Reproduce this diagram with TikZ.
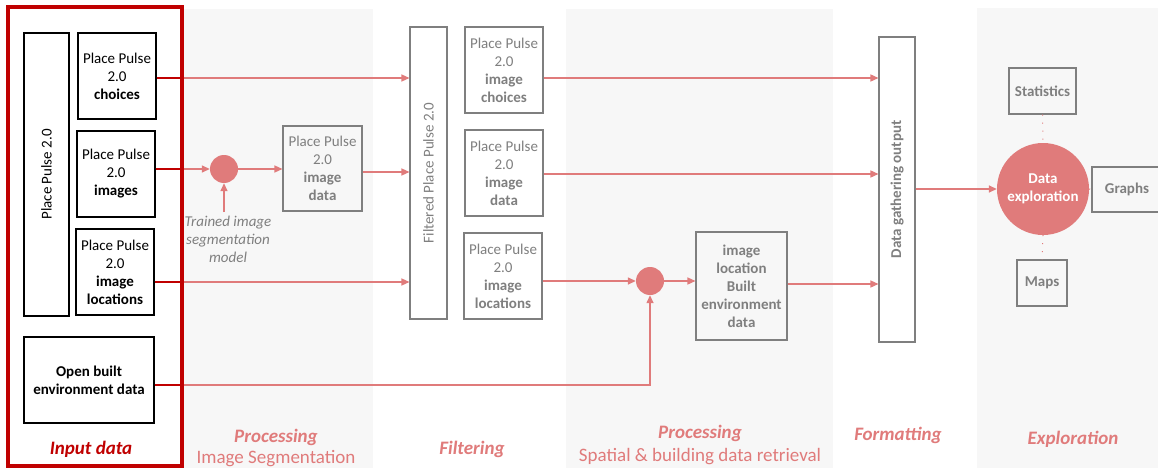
\documentclass[tikz,border=0pt]{standalone}
\usepackage{fontspec}
\setmainfont{Carlito}
\usetikzlibrary{arrows.meta}
\definecolor{pk}{HTML}{E07B7B}
\definecolor{dred}{HTML}{C00000}
\definecolor{gtx}{HTML}{7F7F7F}
\definecolor{bgp}{HTML}{F7F7F7}
\begin{document}
\begin{tikzpicture}[x=1pt,y=-1pt,
  font=\fontsize{15}{18}\selectfont,
  box/.style={draw=black, line width=1.1pt, align=center, inner sep=0pt, text=black},
  gbox/.style={draw=gtx, line width=1.1pt, align=center, inner sep=0pt, text=gtx},
  flow/.style={draw=pk, line width=1.4pt, -{Triangle[length=8pt,width=7pt]}},
  inred/.style={draw=dred, line width=1.6pt},
  dots/.style={draw=pk, line width=1pt, dash pattern=on 1pt off 7pt},
  dot/.style={circle, fill=pk, draw=none, minimum size=28pt, inner sep=0pt},
  panel/.style={fill=bgp, draw=none},
  lbl/.style={font=\fontsize{19}{22}\selectfont\bfseries\itshape, text=pk},
  sub/.style={font=\fontsize{19}{22}\selectfont, text=pk}
]
\useasboundingbox (0,0) rectangle (1158,468);
\fill[white] (0,0) rectangle (1158,468);
% background panels
\fill[panel] (183,9) rectangle (373,468);
\fill[panel] (566,9) rectangle (833,468);
\fill[panel] (977,8) rectangle (1158,468);

% row coordinates
\coordinate (r1) at (0,78);
\coordinate (r2) at (0,169);
\coordinate (r2b) at (0,172);
\coordinate (r2c) at (0,174);
\coordinate (r3) at (0,282);
\coordinate (r3b) at (0,284);
\coordinate (r4) at (0,385);
\coordinate (fr) at (182,0);

% input boxes
\node[box, minimum width=45pt, minimum height=283pt] (pp) at (46.5,174.5) {};
\node[rotate=90] (pptxt) at (pp.center) {Place Pulse 2.0};
\node[box, minimum width=78pt, minimum height=86pt] (ch) at (117,76) {Place Pulse\\2.0\\\textbf{choices}};
\node[box, minimum width=78pt, minimum height=86pt] (im) at (116,174) {Place Pulse\\2.0\\\textbf{images}};
\node[box, minimum width=78pt, minimum height=86pt] (loc) at (115,272) {Place Pulse\\2.0\\\textbf{image}\\\textbf{locations}};
\node[box, minimum width=130pt, minimum height=86pt] (obe) at (89,380) {\textbf{Open built}\\\textbf{environment data}};

% segmentation
\node[dot] (c1) at (224,169) {};
\node[align=center, text=gtx, font=\fontsize{15}{18}\selectfont\itshape] (tm) at (228,239) {Trained image\\segmentation\\model};
\node[gbox, minimum width=79pt, minimum height=85pt] (imd) at (322.5,168.5) {Place Pulse\\2.0\\\textbf{image}\\\textbf{data}};

% filtering
\node[gbox, minimum width=37pt, minimum height=292pt] (flt) at (428.5,173) {};
\node[rotate=90, text=gtx] (flttxt) at (flt.center) {Filtered Place Pulse 2.0};
\node[gbox, minimum width=78pt, minimum height=86pt] (fc) at (504,70) {Place Pulse\\2.0\\\textbf{image}\\\textbf{choices}};
\node[gbox, minimum width=78pt, minimum height=86pt] (fd) at (504,173) {Place Pulse\\2.0\\\textbf{image}\\\textbf{data}};
\node[gbox, minimum width=78pt, minimum height=86pt] (fl) at (503,276) {Place Pulse\\2.0\\\textbf{image}\\\textbf{locations}};

% spatial
\node[dot] (c2) at (650,281) {};
\node[gbox, minimum width=91pt, minimum height=108pt, font=\fontsize{15}{18}\selectfont\bfseries] (be) at (741.5,286) {image\\location\\Built\\environment\\data};

% formatting
\node[gbox, minimum width=36pt, minimum height=305pt] (dg) at (897,189.5) {};
\node[rotate=90, text=gtx, font=\fontsize{15}{18}\selectfont\bfseries] (dgtxt) at (dg.center) {Data gathering output};

% exploration
\node[circle, fill=pk, draw=none, minimum size=92pt, inner sep=0pt, align=center, text=white, font=\fontsize{15}{18}\selectfont\bfseries] (de) at (1043,189) {Data\\exploration};
\node[gbox, minimum width=67pt, minimum height=46pt, font=\fontsize{15}{18}\selectfont\bfseries] (st) at (1042.5,91) {Statistics};
\node[gbox, minimum width=70pt, minimum height=45pt, font=\fontsize{15}{18}\selectfont\bfseries] (gr) at (1127,189.5) {Graphs};
\node[gbox, minimum width=50pt, minimum height=46pt, font=\fontsize{15}{18}\selectfont\bfseries] (mp) at (1042,283) {Maps};

% connectors
\draw[flow] (ch.east |- r1) -- (flt.west |- r1);
\draw[flow] (im.east |- r2) -- (c1.west);
\draw[flow] (tm.north -| c1) -- (c1.south);
\draw[flow] (c1.east) -- (imd.west |- c1);
\draw[flow] (imd.east |- r2b) -- (flt.west |- r2b);
\draw[flow] (loc.east |- r3) -- (flt.west |- r3);
\draw[flow] (fc.east |- r1) -- (dg.west |- r1);
\draw[flow] (fd.east |- r2c) -- (dg.west |- r2c);
\draw[flow] (fl.east |- c2) -- (c2.west);
\draw[flow] (c2.east) -- (be.west |- c2);
\draw[flow] (be.east |- r3b) -- (dg.west |- r3b);
\draw[flow] (obe.east |- r4) -| (c2.south);
\draw[flow] (dg.east |- de) -- (de.west);
\draw[dots] (st.south) -- (de.north);
\draw[dots] (de.south) -- (mp.north);
\draw[dots] (de.east) -- (gr.west);

% dark red segments inside the input frame
\draw[inred] (ch.east |- r1) -- (fr |- r1);
\draw[inred] (im.east |- r2) -- (fr |- r2);
\draw[inred] (loc.east |- r3) -- (fr |- r3);
\draw[inred] (obe.east |- r4) -- (fr |- r4);

% input frame
\draw[draw=dred, line width=4pt] (8,7) rectangle (182,466);

% stage labels
\node[lbl, text=dred] (l1) at (91,449) {Input data};
\node[lbl] (l2) at (276,437) {Processing};
\node[sub] (l2b) at (276,459) {Image Segmentation};
\node[lbl] (l3) at (472,449) {Filtering};
\node[lbl] (l4) at (700,433) {Processing};
\node[sub] (l4b) at (700,457) {Spatial \& building data retrieval};
\node[lbl] (l5) at (898,435) {Formatting};
\node[lbl] (l6) at (1073,439) {Exploration};
\end{tikzpicture}
\end{document}
